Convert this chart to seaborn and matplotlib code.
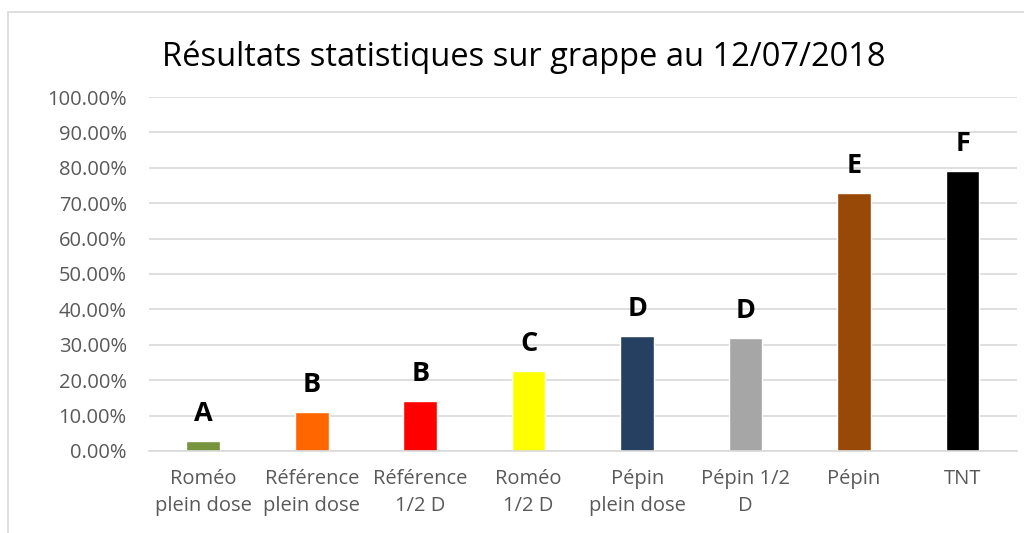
import matplotlib
matplotlib.use("Agg")
import matplotlib.pyplot as plt
import seaborn as sns
import pandas as pd
from matplotlib.patches import Rectangle
from matplotlib.ticker import PercentFormatter

categories = ["Roméo\nplein dose", "Référence\nplein dose", "Référence\n1/2 D", "Roméo\n1/2 D",
              "Pépin\nplein dose", "Pépin 1/2\nD", "Pépin", "TNT"]
values = [0.028, 0.110, 0.141, 0.226, 0.325, 0.319, 0.729, 0.791]
letters = ["A", "B", "B", "C", "D", "D", "E", "F"]
colors = ["#77933C", "#FF6600", "#FF0000", "#FFFF00", "#254061", "#A6A6A6", "#984807", "#000000"]

sns.set_theme(style="white")
plt.rcParams['font.family'] = ['Open Sans', 'DejaVu Sans']

df = pd.DataFrame({"cat": categories, "val": values})
fig = plt.figure(figsize=(10.24, 5.33), dpi=100)
ax = fig.add_axes([0.1455, 0.154, 0.8475, 0.664])
sns.barplot(data=df, x="cat", y="val", hue="cat", palette=colors, width=0.31,
            legend=False, ax=ax, saturation=1)
ax.set_ylim(0, 1)
ax.set_xlim(-0.5, 7.5)
ax.set_yticks([i / 10 for i in range(11)])
ax.yaxis.set_major_formatter(PercentFormatter(1.0, decimals=2))
ax.grid(axis="y", color="#D9D9D9", linewidth=1.2)
ax.set_axisbelow(True)
for s in ["top", "right", "left"]:
    ax.spines[s].set_visible(False)
ax.spines["bottom"].set_color("#D9D9D9")
ax.spines["bottom"].set_linewidth(1.2)
ax.tick_params(axis="both", length=0, labelsize=14.5, colors="#595959")
ax.tick_params(axis="y", pad=16)
ax.tick_params(axis="x", pad=13)
for t in ax.get_xticklabels():
    t.set_linespacing(1.45)
ax.set_xlabel("")
ax.set_ylabel("")
for i, (v, l) in enumerate(zip(values, letters)):
    ax.annotate(l, (i, v), xytext=(0, 10), textcoords="offset points", ha="center", va="bottom",
                fontsize=19.5, fontweight="bold", color="black")
fig.text(0.512, 0.893, "Résultats statistiques sur grappe au 12/07/2018", ha="center", va="center",
         fontsize=23.5, color="black")
fig.patches.append(Rectangle((0.008, -0.1), 1.2, 1.077, transform=fig.transFigure, fill=False,
                             edgecolor="#D9D9D9", linewidth=1.2))
fig.savefig("out.png", dpi=100)
